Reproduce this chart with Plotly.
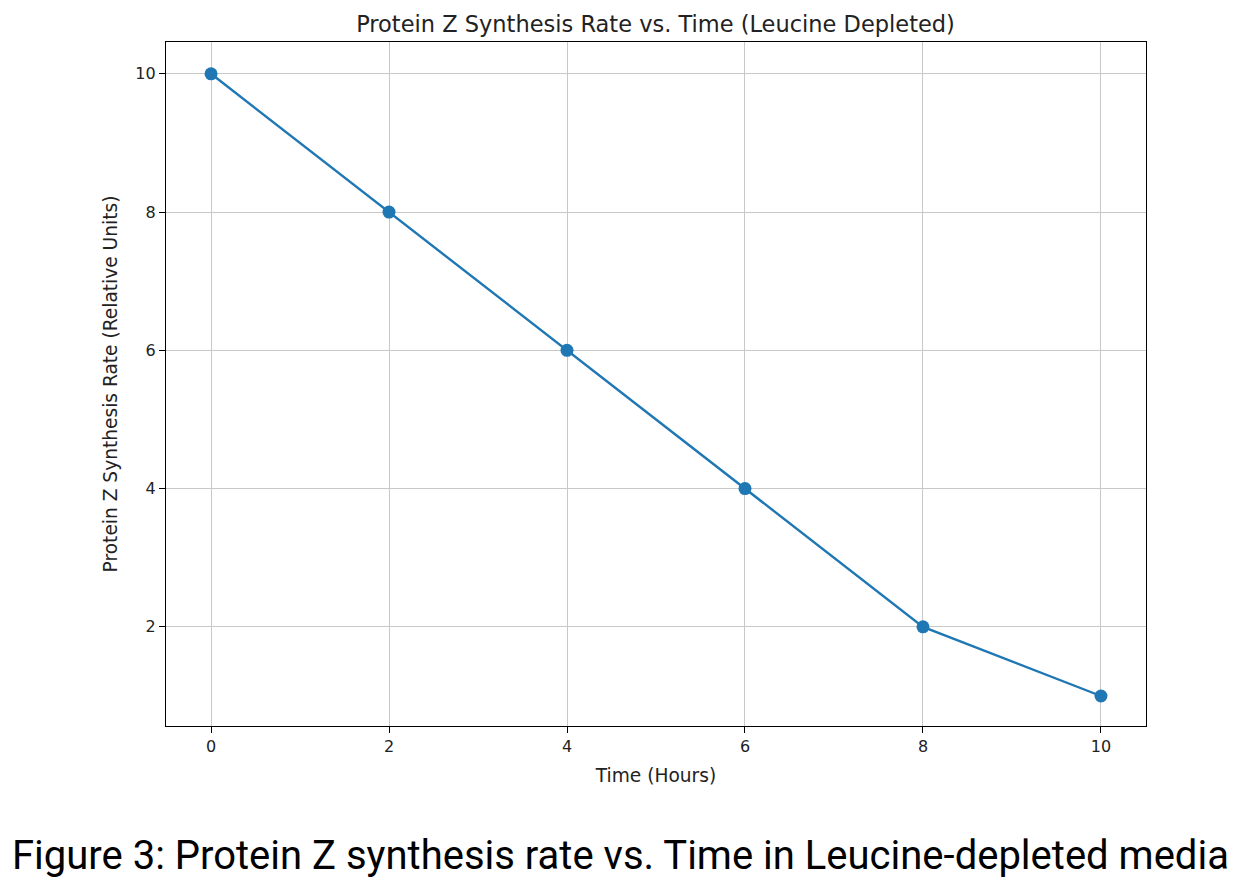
import plotly.graph_objects as go

time_hours = [0, 2, 4, 6, 8, 10]
synthesis_rate = [10, 8, 6, 4, 2, 1]
x_ticks = [0, 2, 4, 6, 8, 10]
y_ticks = [2, 4, 6, 8, 10]

fig = go.Figure()
fig.add_trace(go.Scatter(
    x=time_hours, y=synthesis_rate, mode="lines+markers",
    line=dict(color="#1f77b4", width=2.4),
    marker=dict(color="#1f77b4", size=13),
    showlegend=False,
))

axis_common = dict(
    showline=True, linecolor="black", linewidth=1.3, mirror=True,
    ticks="outside", ticklen=6, tickcolor="black", tickwidth=1,
    showgrid=True, gridcolor="#c8c8c8", gridwidth=1, zeroline=False,
    tickfont=dict(family="DejaVu Sans", size=16, color="#222"),
)

fig.update_layout(
    width=1251, height=884,
    margin=dict(l=166, r=105, t=42, b=158),
    paper_bgcolor="white", plot_bgcolor="white",
    title=dict(text="Protein Z Synthesis Rate vs. Time (Leucine Depleted)",
               x=0.524, xanchor="center", y=0.973, yanchor="middle",
               font=dict(family="DejaVu Sans", size=22.5, color="#222")),
    xaxis=dict(range=[-0.506, 10.506], tickvals=x_ticks,
               title=dict(text="Time (Hours)", font=dict(family="DejaVu Sans", size=18.6, color="#222"), standoff=13),
               **axis_common),
    yaxis=dict(range=[0.566, 10.46], tickvals=y_ticks,
               title=dict(text="Protein Z Synthesis Rate (Relative Units)", font=dict(family="DejaVu Sans", size=18.6, color="#222"), standoff=12),
               **axis_common),
)

fig.add_annotation(
    text="Figure 3: Protein Z synthesis rate vs. Time in Leucine-depleted media",
    xref="paper", yref="paper", x=0.5, y=-0.19, xanchor="center", yanchor="middle",
    xshift=-36,
    showarrow=False,
    font=dict(family="Roboto, sans-serif", size=40, color="black"),
)

fig.write_html("out.html")
